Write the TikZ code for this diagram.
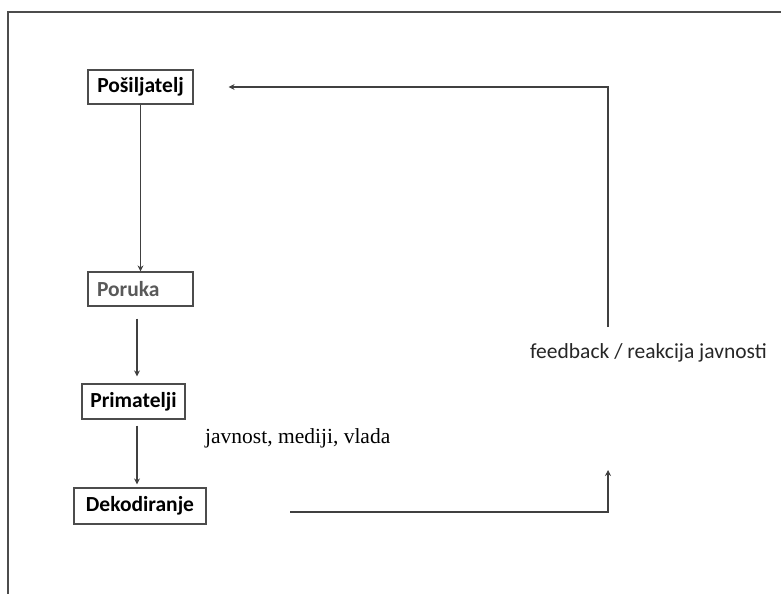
\documentclass[tikz,border=0pt]{standalone}
\usepackage{fontspec}
\setmainfont{Liberation Serif}
\newfontfamily\carlitofont{Carlito}
\usetikzlibrary{arrows.meta,calc}
\begin{document}
\begin{tikzpicture}[x=1pt,y=-1pt,
  box/.style={draw=black!70, line width=1.2pt, inner sep=0pt, font=\carlitofont\bfseries\fontsize{21.5}{25}\selectfont},
  arr/.style={draw=black!75, line width=1.1pt, -{Stealth[length=6pt,width=6pt]}}]
\useasboundingbox (0,0) rectangle (781,594);
% frame
\draw[black!70, line width=1.6pt] (781,12) -- (8,12) -- (8,594);
% boxes
\node[box, minimum width=105pt, minimum height=34pt] (pos) at (140.5,87) {Pošiljatelj};
\node[box, minimum width=105pt, minimum height=34pt, text width=87pt, align=left, text=black!65] (por) at (140.5,289) {Poruka};
\node[box, minimum width=103pt, minimum height=35pt] (pri) at (133.5,401.5) {Primatelji};
\node[box, minimum width=132pt, minimum height=36pt] (dek) at (140,506) {Dekodiranje};
% labels
\node[anchor=base west, inner sep=0pt, font=\fontsize{21.5}{25}\selectfont] (jav) at (205,443) {javnost, mediji, vlada};
\node[anchor=base west, inner sep=0pt, font=\carlitofont\fontsize{21.5}{25}\selectfont, text=black!85] (fb) at (530,358) {feedback / reakcija javnosti};
% coordinates
\coordinate (ax) at (137,0);
\coordinate (f1) at (290,512);
\coordinate (c1) at (608,512);
\coordinate (t1) at (608,470);
\coordinate (t2) at (608,327);
\coordinate (c2) at (608,87);
% connectors
\draw[arr] (pos.south) -- (por.north);
\draw[arr, shorten <=12pt, shorten >=7pt] (por.south -| ax) -- (pri.north -| ax);
\draw[arr, shorten <=6pt, shorten >=3pt] (pri.south -| ax) -- (dek.north -| ax);
\draw[arr] (f1) -- (c1) -- (t1);
\draw[arr, shorten >=35pt] (t2) -- (c2) -- (pos.east);
\end{tikzpicture}
\end{document}
